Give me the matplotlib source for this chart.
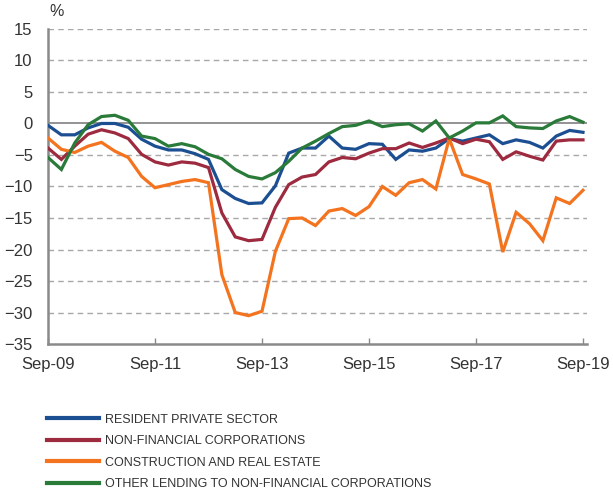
import matplotlib
matplotlib.use('Agg')
import matplotlib.pyplot as plt
from matplotlib.lines import Line2D

plt.rcParams['font.family'] = ['Liberation Sans', 'DejaVu Sans']

# Quarterly data, Sep-09 .. Sep-19 (41 quarters)
tick_labels = ['Sep-09', 'Sep-11', 'Sep-13', 'Sep-15', 'Sep-17', 'Sep-19']

resident_private = [-0.3, -1.8, -1.8, -0.7, 0.0, 0.0, -0.6, -2.5, -3.6, -4.2,
                    -4.2, -4.8, -5.7, -10.5, -11.9, -12.7, -12.6, -9.9, -4.7, -3.9,
                    -3.9, -2.0, -3.9, -4.1, -3.2, -3.3, -5.7, -4.2, -4.4, -3.9,
                    -2.4, -2.8, -2.3, -1.8, -3.2, -2.6, -3.0, -3.9, -2.0, -1.1,
                    -1.4]
non_financial = [-3.9, -5.7, -3.6, -1.7, -1.0, -1.5, -2.4, -4.9, -6.1, -6.6,
                 -6.1, -6.3, -7.0, -14.2, -18.0, -18.6, -18.4, -13.3, -9.7, -8.5,
                 -8.1, -6.1, -5.4, -5.6, -4.7, -4.0, -4.0, -3.1, -3.8, -3.1,
                 -2.3, -3.2, -2.5, -2.9, -5.7, -4.5, -5.2, -5.8, -2.8, -2.6,
                 -2.6]
construction = [-2.3, -4.1, -4.6, -3.6, -3.0, -4.4, -5.4, -8.4, -10.2, -9.7,
                -9.2, -8.9, -9.4, -24.0, -30.0, -30.5, -29.8, -20.3, -15.1, -15.0,
                -16.2, -13.9, -13.5, -14.6, -13.2, -10.0, -11.4, -9.4, -8.9, -10.4,
                -2.4, -8.1, -8.8, -9.6, -20.4, -14.1, -15.9, -18.6, -11.8, -12.7,
                -10.6]
other_lending = [-5.4, -7.3, -3.1, -0.2, 1.1, 1.3, 0.5, -2.0, -2.4, -3.6,
                 -3.2, -3.7, -4.9, -5.6, -7.3, -8.4, -8.8, -7.8, -6.0, -3.9,
                 -2.8, -1.6, -0.5, -0.3, 0.4, -0.5, -0.2, -0.05, -1.2, 0.4,
                 -2.3, -1.2, 0.1, 0.1, 1.2, -0.5, -0.7, -0.8, 0.4, 1.1,
                 0.2]

series = [
    ('RESIDENT PRIVATE SECTOR', resident_private, '#1c4f92'),
    ('NON-FINANCIAL CORPORATIONS', non_financial, '#9d2a3e'),
    ('CONSTRUCTION AND REAL ESTATE', construction, '#f4731f'),
    ('OTHER LENDING TO NON-FINANCIAL CORPORATIONS', other_lending, '#2a7a3a'),
]

grey = '#8a8a8a'
text_col = '#333333'

fig = plt.figure(figsize=(6.13, 4.95), dpi=100)
ax = fig.add_axes([0.0783, 0.305, 0.8793, 0.6365])

x = list(range(len(resident_private)))

# Grid lines
for v in range(-30, 20, 5):
    if v == 0:
        ax.axhline(v, color=grey, lw=1.3, zorder=1)
    else:
        ax.axhline(v, color='#a8a8a8', lw=1.0, ls=(0, (4, 3)), zorder=1)

for name, vals, col in series:
    ax.plot(x, vals, color=col, lw=2.3, label=name, zorder=3,
            solid_joinstyle='miter')

ax.set_xlim(0, 40.3)
ax.set_ylim(-35, 15)
ax.set_yticks(range(-35, 20, 5))
ax.set_xticks(range(0, 41, 8))
ax.set_xticklabels(tick_labels)

for s in ['top', 'right']:
    ax.spines[s].set_visible(False)
for s in ['left', 'bottom']:
    ax.spines[s].set_color(grey)
    ax.spines[s].set_linewidth(1.8)

ax.tick_params(axis='y', length=0, pad=11, labelsize=12, labelcolor=text_col)
ax.tick_params(axis='x', direction='in', length=4, color=grey, width=1,
               pad=9, labelsize=12, labelcolor=text_col)

fig.text(0.081, 0.962, '%', fontsize=11.5, color=text_col, ha='left', va='bottom')

handles = [Line2D([], [], color=c, lw=3) for _, _, c in series]
labels = [n for n, _, _ in series]
fig.legend(handles, labels, loc='upper left', bbox_to_anchor=(0.069, 0.174),
           frameon=False, handlelength=4.1, handletextpad=0.55, labelspacing=0.75,
           prop={'size': 9}, labelcolor=text_col, borderaxespad=0)

fig.savefig('out.png', dpi=100)
